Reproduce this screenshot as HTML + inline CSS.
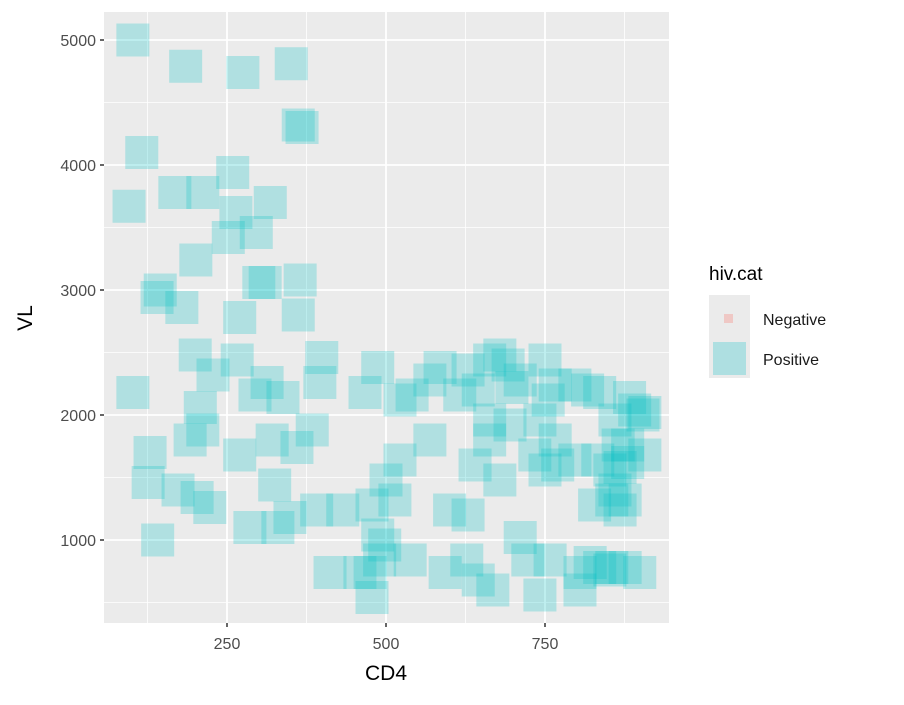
<!DOCTYPE html>
<html><head><meta charset="utf-8"><style>
body{margin:0;background:#fff;width:904px;height:700px;overflow:hidden}
svg text{font-family:"Liberation Sans",sans-serif}
</style></head><body>
<svg width="904" height="700">
<rect x="104" y="12" width="565" height="611" fill="#ebebeb"/>
<g id="grid"></g>
<g id="pts"></g>
<g id="axes"></g>
<text x="386" y="680" font-size="21" text-anchor="middle" fill="#000">CD4</text>
<text x="32" y="318" font-size="21" text-anchor="middle" fill="#000" transform="rotate(-90 32 318)">VL</text>
<g>
<text x="709" y="280" font-size="19" fill="#000">hiv.cat</text>
<rect x="709" y="295" width="41" height="83" fill="#ebebeb"/>
<rect x="724" y="314" width="9" height="9" fill="#F8766D" fill-opacity="0.3"/>
<rect x="713" y="342" width="33" height="33" fill="#00BFC4" fill-opacity="0.26"/>
<text x="763" y="325" font-size="16" fill="#1a1a1a">Negative</text>
<text x="763" y="365" font-size="16" fill="#1a1a1a">Positive</text>
</g>
</svg>
<script>
const cd4=[102,185,275,351,362,368,116,96,168,212,259,264,252,296,318,201,310,365,300,145,140,179,270,362,200,228,266,399,396,313,294,338,102,208,212,192,129,126,173,203,223,270,321,325,360,384,286,330,349,391,432,141,412,459,475,478,490,538,498,487,478,500,522,514,467,487,522,541,569,569,585,600,629,593,627,645,668,616,629,663,679,645,663,640,663,679,698,711,750,766,755,692,695,734,750,770,797,766,742,711,723,758,742,805,821,805,836,852,855,833,828,855,868,860,868,852,797,817,836,883,860,880,876,880,891,904,865,907,876,899,907];
const vl=[5000,4790,4740,4810,4320,4300,4100,3670,3780,3780,3940,3620,3420,3460,3700,3240,3060,3080,3060,3000,2940,2860,2780,2800,2480,2320,2440,2460,2260,2260,2160,2140,2180,2060,1880,1800,1700,1460,1400,1340,1260,1680,1800,1440,1740,1880,1100,1100,1180,1240,1240,1000,740,740,740,540,840,840,960,1040,1280,1480,1640,1320,2180,2380,2120,2160,1800,2280,2380,1240,1200,740,840,680,600,2160,2360,2440,2480,2200,1960,1600,1800,1480,2220,2280,2440,2240,2120,2400,1920,1680,1560,1600,1640,1800,1960,1020,840,840,560,740,820,600,780,760,780,1640,1280,1320,1240,1400,1580,1560,2240,2200,2180,2140,1960,1620,1320,1760,2040,2000,1760,1680,780,740,2020];
const xTicks=[250,500,750];
const yTicks=[1000,2000,3000,4000,5000];
const NS="http://www.w3.org/2000/svg";
const X=v=>68+v*0.636;
const Y=v=>665-v*0.125;
const L=104,R=669,T=12,B=623;
function mk(tag,attrs,parent){const e=document.createElementNS(NS,tag);for(const k in attrs)e.setAttribute(k,attrs[k]);parent.appendChild(e);return e;}
const grid=document.getElementById('grid'),axes=document.getElementById('axes'),pts=document.getElementById('pts');
const xm=[xTicks[0]-125].concat(xTicks.map(t=>t+125));
xm.forEach(t=>{const l=mk('line',{x1:X(t),x2:X(t),y1:T,y2:B,stroke:'#fff','stroke-width':0.8},grid);

});
const ym=[yTicks[0]-500].concat(yTicks.map(t=>t+500)).filter(t=>Y(t)>T);
ym.forEach(t=>{const l=mk('line',{x1:L,x2:R,y1:Y(t),y2:Y(t),stroke:'#fff','stroke-width':0.8},grid);

});
xTicks.forEach(t=>{const l=mk('line',{x1:X(t),x2:X(t),y1:T,y2:B,stroke:'#fff','stroke-width':1.8},grid);


const k=mk('line',{x1:X(t),x2:X(t),y1:B,y2:B+4,stroke:'#333','stroke-width':1.5},axes);


const s=mk('text',{x:X(t),y:B+26,'font-size':16,'text-anchor':'middle',fill:'#4d4d4d'},axes);s.textContent=t;

});
yTicks.forEach(t=>{const l=mk('line',{x1:L,x2:R,y1:Y(t),y2:Y(t),stroke:'#fff','stroke-width':1.8},grid);


const k=mk('line',{x1:L-4,x2:L,y1:Y(t),y2:Y(t),stroke:'#333','stroke-width':1.5},axes);


const s=mk('text',{x:L-8,y:Y(t)+6,'font-size':16,'text-anchor':'end',fill:'#4d4d4d'},axes);s.textContent=t;

});
const S=33;
cd4.forEach((c,i)=>{const r=mk('rect',{x:X(c)-S/2,y:Y(vl[i])-S/2,width:S,height:S,fill:'#00BFC4','fill-opacity':0.25},pts);

});
</script>
</body></html>
